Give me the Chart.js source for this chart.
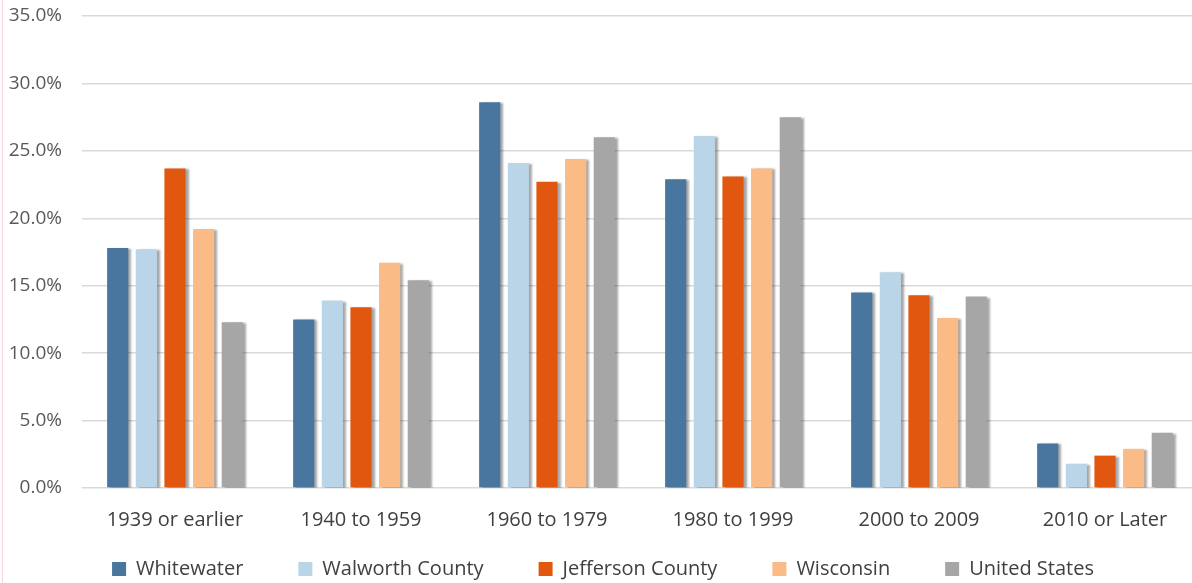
<!DOCTYPE html>
<html>
<head>
<meta charset="utf-8">
<script src="https://cdn.jsdelivr.net/npm/chart.js@4/dist/chart.umd.min.js"></script>
<style>
  html, body { margin: 0; padding: 0; background: #fff; overflow: hidden; }
  #wrap { position: relative; width: 1196px; height: 583px; border-left: 1px solid #f6d6dc; box-sizing: border-box; margin-left: 2px; }
</style>
</head>
<body>
<div id="wrap"><canvas id="chart"></canvas></div>
<script>
// categories and series (percent)
var categories = ['1939 or earlier', '1940 to 1959', '1960 to 1979', '1980 to 1999', '2000 to 2009', '2010 or Later'];
var whitewater = [17.8, 12.5, 28.6, 22.9, 14.5, 3.3];
var walworth   = [17.7, 13.9, 24.1, 26.1, 16.0, 1.8];
var jefferson  = [23.7, 13.4, 22.7, 23.1, 14.3, 2.4];
var wisconsin  = [19.2, 16.7, 24.4, 23.7, 12.6, 2.9];
var usa        = [12.3, 15.4, 26.0, 27.5, 14.2, 4.1];

var seriesNames = ['Whitewater', 'Walworth County', 'Jefferson County', 'Wisconsin', 'United States'];
var seriesColors = ['#48769f', '#bad5e7', '#e2570f', '#fabb86', '#a6a6a6'];
var seriesData = [whitewater, walworth, jefferson, wisconsin, usa];

// soft drop shadow behind the bars
var barShadow = {
  id: 'barShadow',
  beforeDatasetsDraw: function(chart) {
    var ctx = chart.ctx;
    ctx.save();
    ctx.shadowColor = 'rgba(0,0,0,0.35)';
    ctx.shadowOffsetX = 3;
    ctx.shadowOffsetY = 1;
    ctx.shadowBlur = 2;
  },
  afterDatasetsDraw: function(chart) {
    chart.ctx.restore();
  }
};

var datasets = seriesNames.map(function(name, i) {
  return {
    label: name,
    data: seriesData[i],
    backgroundColor: seriesColors[i],
    categoryPercentage: 0.77,
    barPercentage: 0.74
  };
});

new Chart(document.getElementById('chart'), {
  type: 'bar',
  data: { labels: categories, datasets: datasets },
  plugins: [barShadow],
  options: {
    responsive: true,
    maintainAspectRatio: false,
    animation: false,
    layout: { padding: { top: 3, right: 0, left: 5, bottom: -6 } },
    plugins: {
      tooltip: { enabled: false },
      legend: {
        position: 'bottom',
        labels: {
          font: { family: 'Open Sans', size: 20 },
          color: '#404040',
          boxWidth: 14,
          boxHeight: 14,
          padding: 15,
          generateLabels: function(chart) {
            var n = chart.data.datasets.length;
            return chart.data.datasets.map(function(ds, i) {
              // extra trailing space keeps the wide gaps between items
              var gap = i < n - 1 ? '\u2003\u2003' : '';
              return {
                text: ds.label + gap,
                fillStyle: ds.backgroundColor,
                strokeStyle: ds.backgroundColor,
                lineWidth: 0,
                datasetIndex: i,
                fontColor: '#404040'
              };
            });
          }
        }
      }
    },
    scales: {
      x: {
        grid: { display: false },
        border: { display: false },
        ticks: { font: { family: 'Open Sans', size: 20 }, color: '#404040', padding: 12 }
      },
      y: {
        min: 0,
        max: 35,
        afterFit: function(scale) {
          scale.width = 74;
          scale.paddingTop = 16;
        },
        ticks: {
          stepSize: 5,
          font: { family: 'Open Sans', size: 19 },
          color: '#595959',
          padding: 20,
          callback: function(v) { return v.toFixed(1) + '%'; }
        },
        grid: { color: '#d9d9d9', lineWidth: 1.5, drawTicks: false },
        border: { display: false }
      }
    }
  }
});
</script>
</body>
</html>
